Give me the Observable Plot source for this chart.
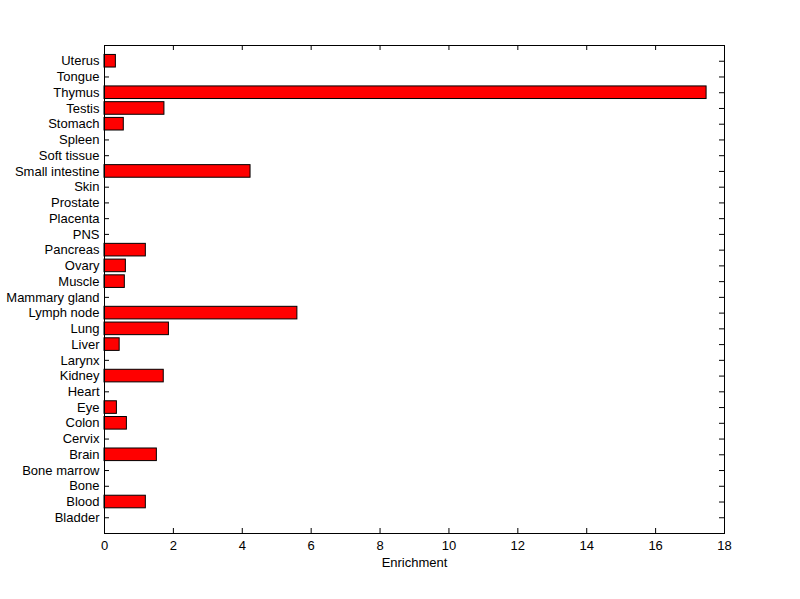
<!DOCTYPE html>
<html>
<head>
<meta charset="utf-8">
<script src="https://cdn.jsdelivr.net/npm/d3@7"></script>
<script src="https://cdn.jsdelivr.net/npm/@observablehq/plot@0.6"></script>
<style>
  html, body { margin: 0; padding: 0; background: #ffffff; }
  #chart svg { display: block; }
</style>
</head>
<body>
<div id="chart"></div>
<script>
// Categories from bottom (Bladder) to top (Uterus)
const tissues = ["Bladder","Blood","Bone","Bone marrow","Brain","Cervix","Colon","Eye","Heart","Kidney","Larynx","Liver","Lung","Lymph node","Mammary gland","Muscle","Ovary","Pancreas","PNS","Placenta","Prostate","Skin","Small intestine","Soft tissue","Spleen","Stomach","Testis","Thymus","Tongue","Uterus"];
const enrichment = [0, 1.2, 0, 0, 1.52, 0, 0.65, 0.36, 0, 1.72, 0, 0.44, 1.87, 5.6, 0, 0.59, 0.62, 1.2, 0, 0, 0, 0, 4.24, 0, 0, 0.56, 1.74, 17.48, 0, 0.33];
const xTicks = [0, 2, 4, 6, 8, 10, 12, 14, 16, 18];

const data = tissues.map((t, i) => ({tissue: t, value: enrichment[i]}));

const W = 800, H = 599;
const mL = 104, mR = 76, mT = 45, mB = 66;
const innerW = W - mL - mR, innerH = H - mT - mB;
const tick = 5;

const chart = Plot.plot({
  width: W,
  height: H,
  marginLeft: mL,
  marginRight: mR,
  marginTop: mT,
  marginBottom: mB,
  style: {fontFamily: "'Liberation Sans', Arial, sans-serif", fontSize: "13px", color: "black", background: "white"},
  x: {domain: [0, 18], ticks: xTicks},
  y: {domain: tissues.slice().reverse(), type: "band", paddingInner: 0.2, paddingOuter: 0.6, round: false},
  marks: [
    // inward tick marks (bottom/top)
    Plot.ruleX(xTicks, {x: d => d, insetTop: innerH - tick, stroke: "black"}),
    Plot.ruleX(xTicks, {x: d => d, insetBottom: innerH - tick, stroke: "black"}),
    // inward tick marks (left/right)
    Plot.ruleY(tissues, {y: d => d, insetRight: innerW - tick, stroke: "black"}),
    Plot.ruleY(tissues, {y: d => d, insetLeft: innerW - tick, stroke: "black"}),
    Plot.barX(data, {x: "value", y: "tissue", fill: "#ff0000", stroke: "black", strokeWidth: 1}),
    Plot.frame({stroke: "black"}),
    Plot.axisX(xTicks, {anchor: "bottom", tickSize: 0, tickPadding: 7, label: null, fill: "black", fontSize: 13}),
    Plot.axisY({anchor: "left", tickSize: 0, tickPadding: 5, label: null, fill: "black", fontSize: 13}),
    Plot.text(["Enrichment"], {frameAnchor: "bottom", dy: 24, lineAnchor: "top", fill: "black", fontSize: 13})
  ]
});

document.getElementById("chart").appendChild(chart);
</script>
</body>
</html>
